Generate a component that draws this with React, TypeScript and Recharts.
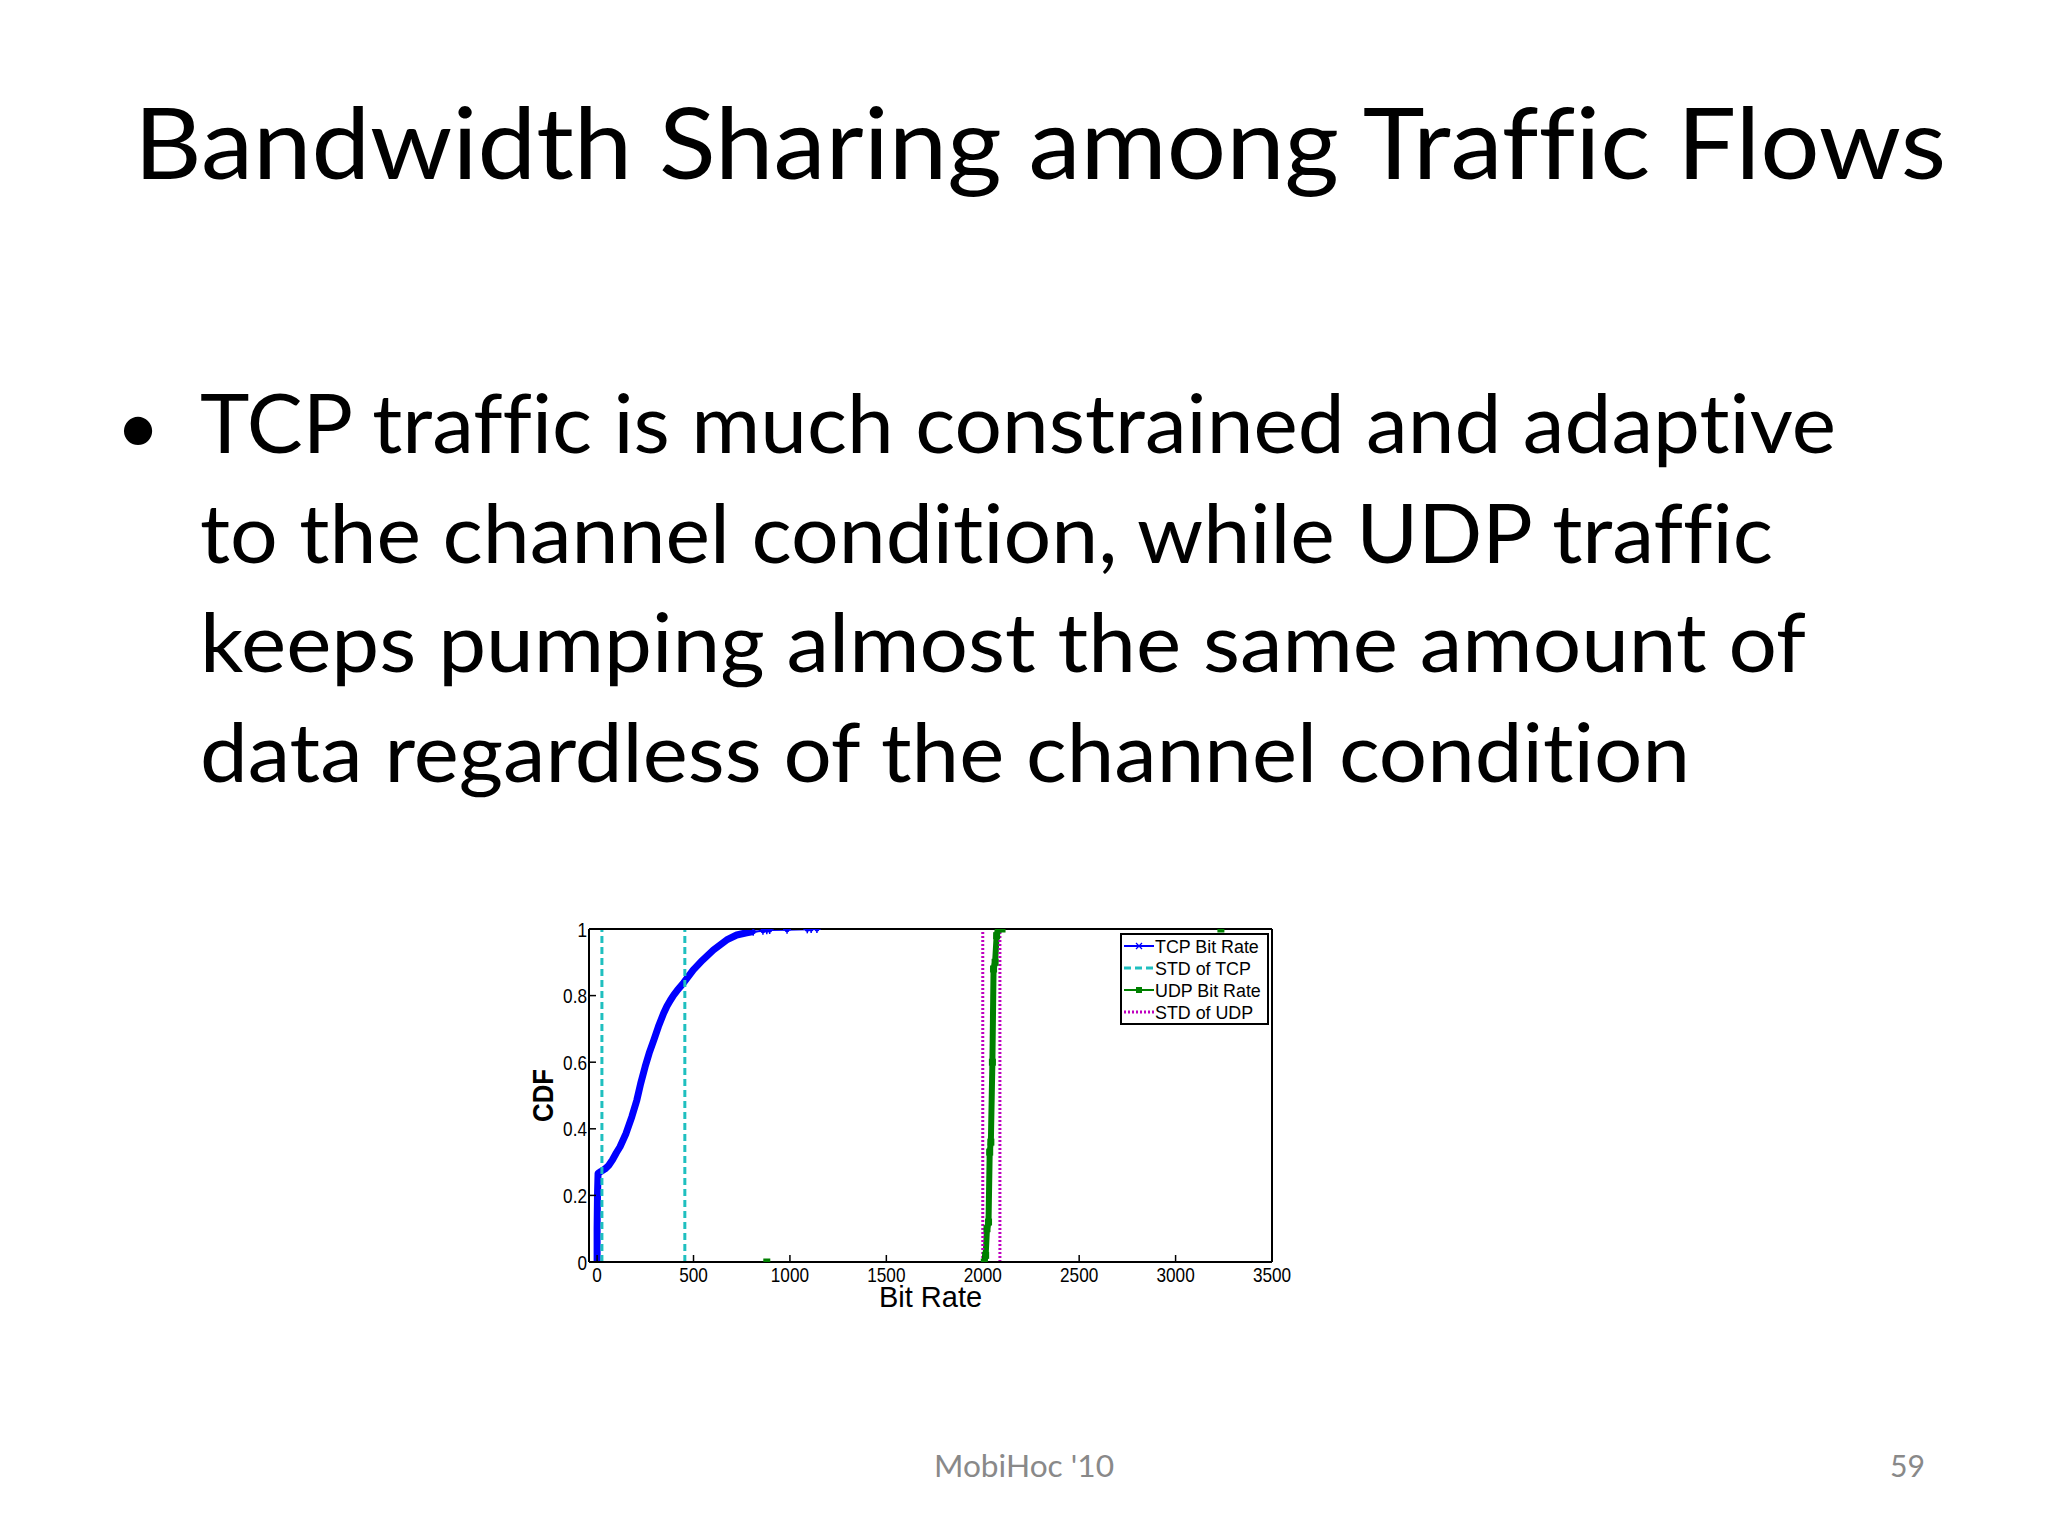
import React from 'react';
import { LineChart, Line, XAxis, YAxis, ReferenceLine, Legend } from 'recharts';

// ---------- slide text ----------
const titleText = 'Bandwidth Sharing among Traffic Flows';
const bulletLines = [
  'TCP traffic is much constrained and adaptive',
  'to the channel condition, while UDP traffic',
  'keeps pumping almost the same amount of',
  'data regardless of the channel condition',
];
const bulletLineLengths = [1636, 1573, 1606, 1490];
const footerLeft = "MobiHoc '10";
const footerRight = '59';

// ---------- chart data ----------
const xTicks = [0, 500, 1000, 1500, 2000, 2500, 3000, 3500];
const yTicks = [0, 0.2, 0.4, 0.6, 0.8, 1];
const xDomain = [-42, 3500];
const yDomain = [0, 1];

const seriesNames = ['TCP Bit Rate', 'STD of TCP', 'UDP Bit Rate', 'STD of UDP'];

const tcpBodyX = [0, 0, 2, 5, 20, 40, 60, 80, 100, 119, 150, 180, 206, 226, 249, 270, 295, 318, 345, 362, 380, 398, 415, 448, 499, 548, 603, 672, 724, 770, 810];
const tcpBodyY = [0, 0.1, 0.2, 0.266, 0.272, 0.279, 0.29, 0.307, 0.328, 0.346, 0.386, 0.436, 0.486, 0.536, 0.586, 0.627, 0.668, 0.707, 0.747, 0.768, 0.786, 0.802, 0.815, 0.838, 0.877, 0.907, 0.937, 0.967, 0.982, 0.988, 0.992];

const tcpTailX = [810, 860, 880, 895, 985, 1090, 1110, 1140];
const tcpTailY = [0.992, 0.995, 0.996, 0.997, 0.998, 0.999, 1, 1];

const udpX = [880, 2008, 2015, 2022, 2030, 2036, 2042, 2050, 2056, 2064, 2072, 2080, 2100, 3235];
const udpY = [0, 0, 0.02, 0.1, 0.12, 0.33, 0.36, 0.6, 0.88, 0.9, 0.98, 1, 1, 1];

const udpStepX = [2008, 2015, 2022, 2030, 2036, 2042, 2050, 2056, 2064, 2072, 2080, 2100];
const udpStepY = [0, 0.02, 0.1, 0.12, 0.33, 0.36, 0.6, 0.88, 0.9, 0.98, 1, 1];

const tcpStd = [25, 455];
const udpStd = [2000, 2089];

const zip = (xs: number[], ys: number[]) => xs.map((x, i) => ({ x, y: ys[i] }));
const tcpBody = zip(tcpBodyX, tcpBodyY);
const tcpTail = zip(tcpTailX, tcpTailY);
const udpAll = zip(udpX, udpY);
const udpStep = zip(udpStepX, udpStepY);

// ---------- styles ----------
const slideFont = "Lato, 'Open Sans', sans-serif";
const chartFont = "'Liberation Sans', Arial, Helvetica, sans-serif";
const noLig: React.CSSProperties = { fontVariantLigatures: 'none', fontFeatureSettings: '"liga" 0, "clig" 0, "dlig" 0' };
const BLUE = '#0000ff';
const CYAN = '#1fbfbf';
const GREEN = '#008000';
const MAGENTA = '#bf00bf';

const XTick = (p: any) => {
  const { x, y, payload } = p;
  return (
    <g transform={`translate(${x},${y})`}>
      <text x={0} y={0} dy={14.5} textAnchor="middle" fontSize={20} fontFamily={chartFont} fill="#000" transform="scale(0.86,1)">
        {String(payload.value)}
      </text>
    </g>
  );
};

const YTick = (p: any) => {
  const { x, y, payload } = p;
  return (
    <g transform={`translate(${x},${y})`}>
      <text x={0} y={0} dy={7.5} textAnchor="end" fontSize={20} fontFamily={chartFont} fill="#000" transform="scale(0.86,1)">
        {String(payload.value)}
      </text>
    </g>
  );
};

const XLabel = (p: any) => {
  const vb = p.viewBox || {};
  const cx = vb.x + vb.width / 2;
  const by = vb.y + 45;
  return (
    <text x={cx} y={by} textAnchor="middle" fontSize={29} fontFamily={chartFont} fill="#000">
      Bit Rate
    </text>
  );
};

const YLabel = (p: any) => {
  const vb = p.viewBox || {};
  const bx = vb.x + vb.width - 36;
  const cy = vb.y + vb.height / 2;
  return (
    <text
      x={0}
      y={0}
      textAnchor="middle"
      fontSize={29}
      fontWeight="bold"
      fontFamily={chartFont}
      fill="#000"
      transform={`translate(${bx},${cy}) rotate(-90) scale(0.89,1)`}
    >
      CDF
    </text>
  );
};

const TailDot = (p: any) => {
  const { cx, cy, index } = p;
  if (cx == null || cy == null) return <g key={`td-${index}`} />;
  return (
    <g key={`td-${index}`}>
      <circle cx={cx} cy={cy} r={2.5} fill={BLUE} />
      <line x1={cx - 4} y1={cy} x2={cx + 4} y2={cy} stroke={BLUE} strokeWidth={1.5} />
      <line x1={cx} y1={cy - 4} x2={cx} y2={cy + 4} stroke={BLUE} strokeWidth={1.5} />
    </g>
  );
};

const SquareDot = (p: any) => {
  const { cx, cy, index } = p;
  if (cx == null || cy == null) return <g key={`sd-${index}`} />;
  return <rect key={`sd-${index}`} x={cx - 3.5} y={cy - 3.5} width={7} height={7} fill={GREEN} />;
};

const renderLegend = () => {
  const rowY = (i: number) => 13 + i * 22;
  return (
    <svg width={150} height={93} style={{ display: 'block' }}>
      <rect x={1} y={1} width={147} height={90} fill="#fff" stroke="#000" strokeWidth={2} />
      <line x1={4} y1={rowY(0)} x2={34} y2={rowY(0)} stroke={BLUE} strokeWidth={2} />
      <line x1={16} y1={rowY(0) - 3} x2={22} y2={rowY(0) + 3} stroke={BLUE} strokeWidth={1.2} />
      <line x1={16} y1={rowY(0) + 3} x2={22} y2={rowY(0) - 3} stroke={BLUE} strokeWidth={1.2} />
      <line x1={4} y1={rowY(1)} x2={34} y2={rowY(1)} stroke={CYAN} strokeWidth={3} strokeDasharray="7 4" />
      <line x1={4} y1={rowY(2)} x2={34} y2={rowY(2)} stroke={GREEN} strokeWidth={2} />
      <rect x={16} y={rowY(2) - 3} width={6} height={6} fill={GREEN} />
      <line x1={4} y1={rowY(3)} x2={34} y2={rowY(3)} stroke={MAGENTA} strokeWidth={3} strokeDasharray="2 2" />
      {seriesNames.map((name, i) => (
        <text
          key={name}
          x={0}
          y={0}
          fontSize={19}
          fontFamily={chartFont}
          fill="#000"
          transform={`translate(35,${rowY(i) + 6.5}) scale(0.94,1)`}
        >
          {name}
        </text>
      ))}
    </svg>
  );
};

const axisLineStyle = { stroke: '#000', strokeWidth: 2 };
const tickLineStyle = { stroke: '#000', strokeWidth: 1.5 };

export default function App() {
  return (
    <div style={{ position: 'absolute', left: 0, top: 0, width: 2048, height: 1536, background: '#fff', overflow: 'hidden' }}>
      <svg width={2048} height={1536} style={{ position: 'absolute', left: 0, top: 0, ...noLig }}>
        <text x={134} y={179} fontSize={99} fontFamily={slideFont} fill="#000" textLength={1812} lengthAdjust="spacingAndGlyphs" style={noLig}>
          {titleText}
        </text>
        <text x={138} y={453} fontSize={76} fontFamily={slideFont} fill="#000" textAnchor="middle">
          •
        </text>
        {bulletLines.map((line, i) => (
          <text
            key={i}
            x={200}
            y={453 + i * 109.5}
            fontSize={81}
            fontFamily={slideFont}
            fill="#000"
            textLength={bulletLineLengths[i]}
            lengthAdjust="spacingAndGlyphs"
            style={noLig}
          >
            {line}
          </text>
        ))}
        <text x={934} y={1477} fontSize={30} fontFamily={slideFont} fill="#898989" textLength={180} lengthAdjust="spacingAndGlyphs">
          {footerLeft}
        </text>
        <text x={1890} y={1477} fontSize={30} fontFamily={slideFont} fill="#898989" textLength={35} lengthAdjust="spacingAndGlyphs">
          {footerRight}
        </text>
      </svg>

      <div style={{ position: 'absolute', left: 500, top: 900, width: 800, height: 430 }}>
        <LineChart width={800} height={430} margin={{ top: 28, right: 27, bottom: 18, left: 29 }}>
          <XAxis
            dataKey="x"
            type="number"
            domain={xDomain}
            ticks={xTicks}
            allowDataOverflow
            height={50}
            tickSize={-7}
            tickMargin={12}
            tick={<XTick />}
            axisLine={axisLineStyle}
            tickLine={tickLineStyle}
            label={(p: any) => <XLabel {...p} />}
          />
          <XAxis
            xAxisId="top"
            orientation="top"
            dataKey="x"
            type="number"
            domain={xDomain}
            ticks={xTicks}
            allowDataOverflow
            height={1}
            tickSize={-7}
            tick={false}
            axisLine={axisLineStyle}
            tickLine={tickLineStyle}
          />
          <YAxis
            type="number"
            domain={yDomain}
            ticks={yTicks}
            allowDataOverflow
            width={60}
            tickSize={-7}
            tickMargin={9}
            tick={<YTick />}
            axisLine={axisLineStyle}
            tickLine={tickLineStyle}
            label={(p: any) => <YLabel {...p} />}
          />
          <YAxis
            yAxisId="right"
            orientation="right"
            type="number"
            domain={yDomain}
            ticks={yTicks}
            allowDataOverflow
            width={1}
            tickSize={-7}
            tick={false}
            axisLine={axisLineStyle}
            tickLine={tickLineStyle}
          />
          <Line data={tcpBody} dataKey="y" stroke={BLUE} strokeWidth={7} strokeLinejoin="round" dot={false} isAnimationActive={false} legendType="none" />
          <Line data={tcpTail} dataKey="y" stroke={BLUE} strokeWidth={2} dot={(p: any) => <TailDot {...p} />} isAnimationActive={false} legendType="none" />
          {tcpStd.map((v) => (
            <ReferenceLine key={`ts-${v}`} x={v} stroke={CYAN} strokeWidth={3} strokeDasharray="7 4" />
          ))}
          <Line data={udpAll} dataKey="y" stroke={GREEN} strokeWidth={2} dot={(p: any) => <SquareDot {...p} />} isAnimationActive={false} legendType="none" />
          <Line data={udpStep} dataKey="y" stroke={GREEN} strokeWidth={6} dot={false} isAnimationActive={false} legendType="none" />
          {udpStd.map((v) => (
            <ReferenceLine key={`us-${v}`} x={v} stroke={MAGENTA} strokeWidth={3} strokeDasharray="2 2" />
          ))}
          <Legend
            layout="horizontal"
            verticalAlign="middle"
            align="center"
            content={renderLegend}
            wrapperStyle={{ position: 'absolute', left: 620, top: 33, width: 150, height: 93 }}
          />
        </LineChart>
      </div>
    </div>
  );
}
